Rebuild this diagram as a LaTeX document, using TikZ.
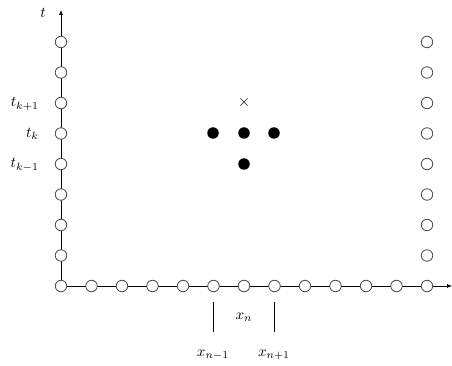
\documentclass[tikz,border=0pt]{standalone}
\usetikzlibrary{arrows.meta}
\newcommand{\biglbl}[1]{\scalebox{1.5}{$#1$}}
\begin{document}
\begin{tikzpicture}[x=1pt,y=-1pt,
  grid/.style={circle,draw=black!70,fill=white,line width=0.8pt,minimum size=11.5pt,inner sep=0pt},
  solid dot/.style={circle,fill=black,minimum size=11.5pt,inner sep=0pt},
  axis/.style={line width=0.7pt,-{Latex[length=5pt,width=4pt]}},
  lbl/.style={inner sep=0pt}]
\useasboundingbox (0,0) rectangle (452,366);
\coordinate (O) at (61,286);
\coordinate (tend) at (61,10);
\coordinate (xend) at (452,286);
\draw[axis] (O) -- (tend);
\draw[axis] (O) -- (xend);
\foreach \i in {0,...,12}{
  \node[grid] (b\i) at ({61+30.5*\i},286) {};
}
\foreach \j in {1,...,8}{
  \node[grid] (l\j) at (61,{286-30.5*\j}) {};
  \node[grid] (r\j) at (427,{286-30.5*\j}) {};
}
\node[lbl] (t) at (43,13) {\biglbl{t}};
\node[lbl,anchor=east] (tkp) at (39,104) {\biglbl{t_{k+1}}};
\node[lbl,anchor=east] (tk) at (39,134) {\biglbl{t_{k}}};
\node[lbl,anchor=east] (tkm) at (39,165) {\biglbl{t_{k-1}}};
\node[lbl] (cross) at (244,103) {\scalebox{1.6}{$\times$}};
\node[solid dot] (d1) at (213,133) {};
\node[solid dot] (d2) at (244,133) {};
\node[solid dot] (d3) at (274,133) {};
\node[solid dot] (d4) at (244,164) {};
\coordinate (ta1) at (213,302);
\coordinate (ta2) at (213,332);
\coordinate (tb1) at (274,302);
\coordinate (tb2) at (274,332);
\draw[line width=0.7pt] (ta1) -- (ta2);
\draw[line width=0.7pt] (tb1) -- (tb2);
\node[lbl] (xn) at (244,317) {\biglbl{x_n}};
\node[lbl] (xnm) at (213,355) {\biglbl{x_{n-1}}};
\node[lbl] (xnp) at (274,355) {\biglbl{x_{n+1}}};
\end{tikzpicture}
\end{document}
